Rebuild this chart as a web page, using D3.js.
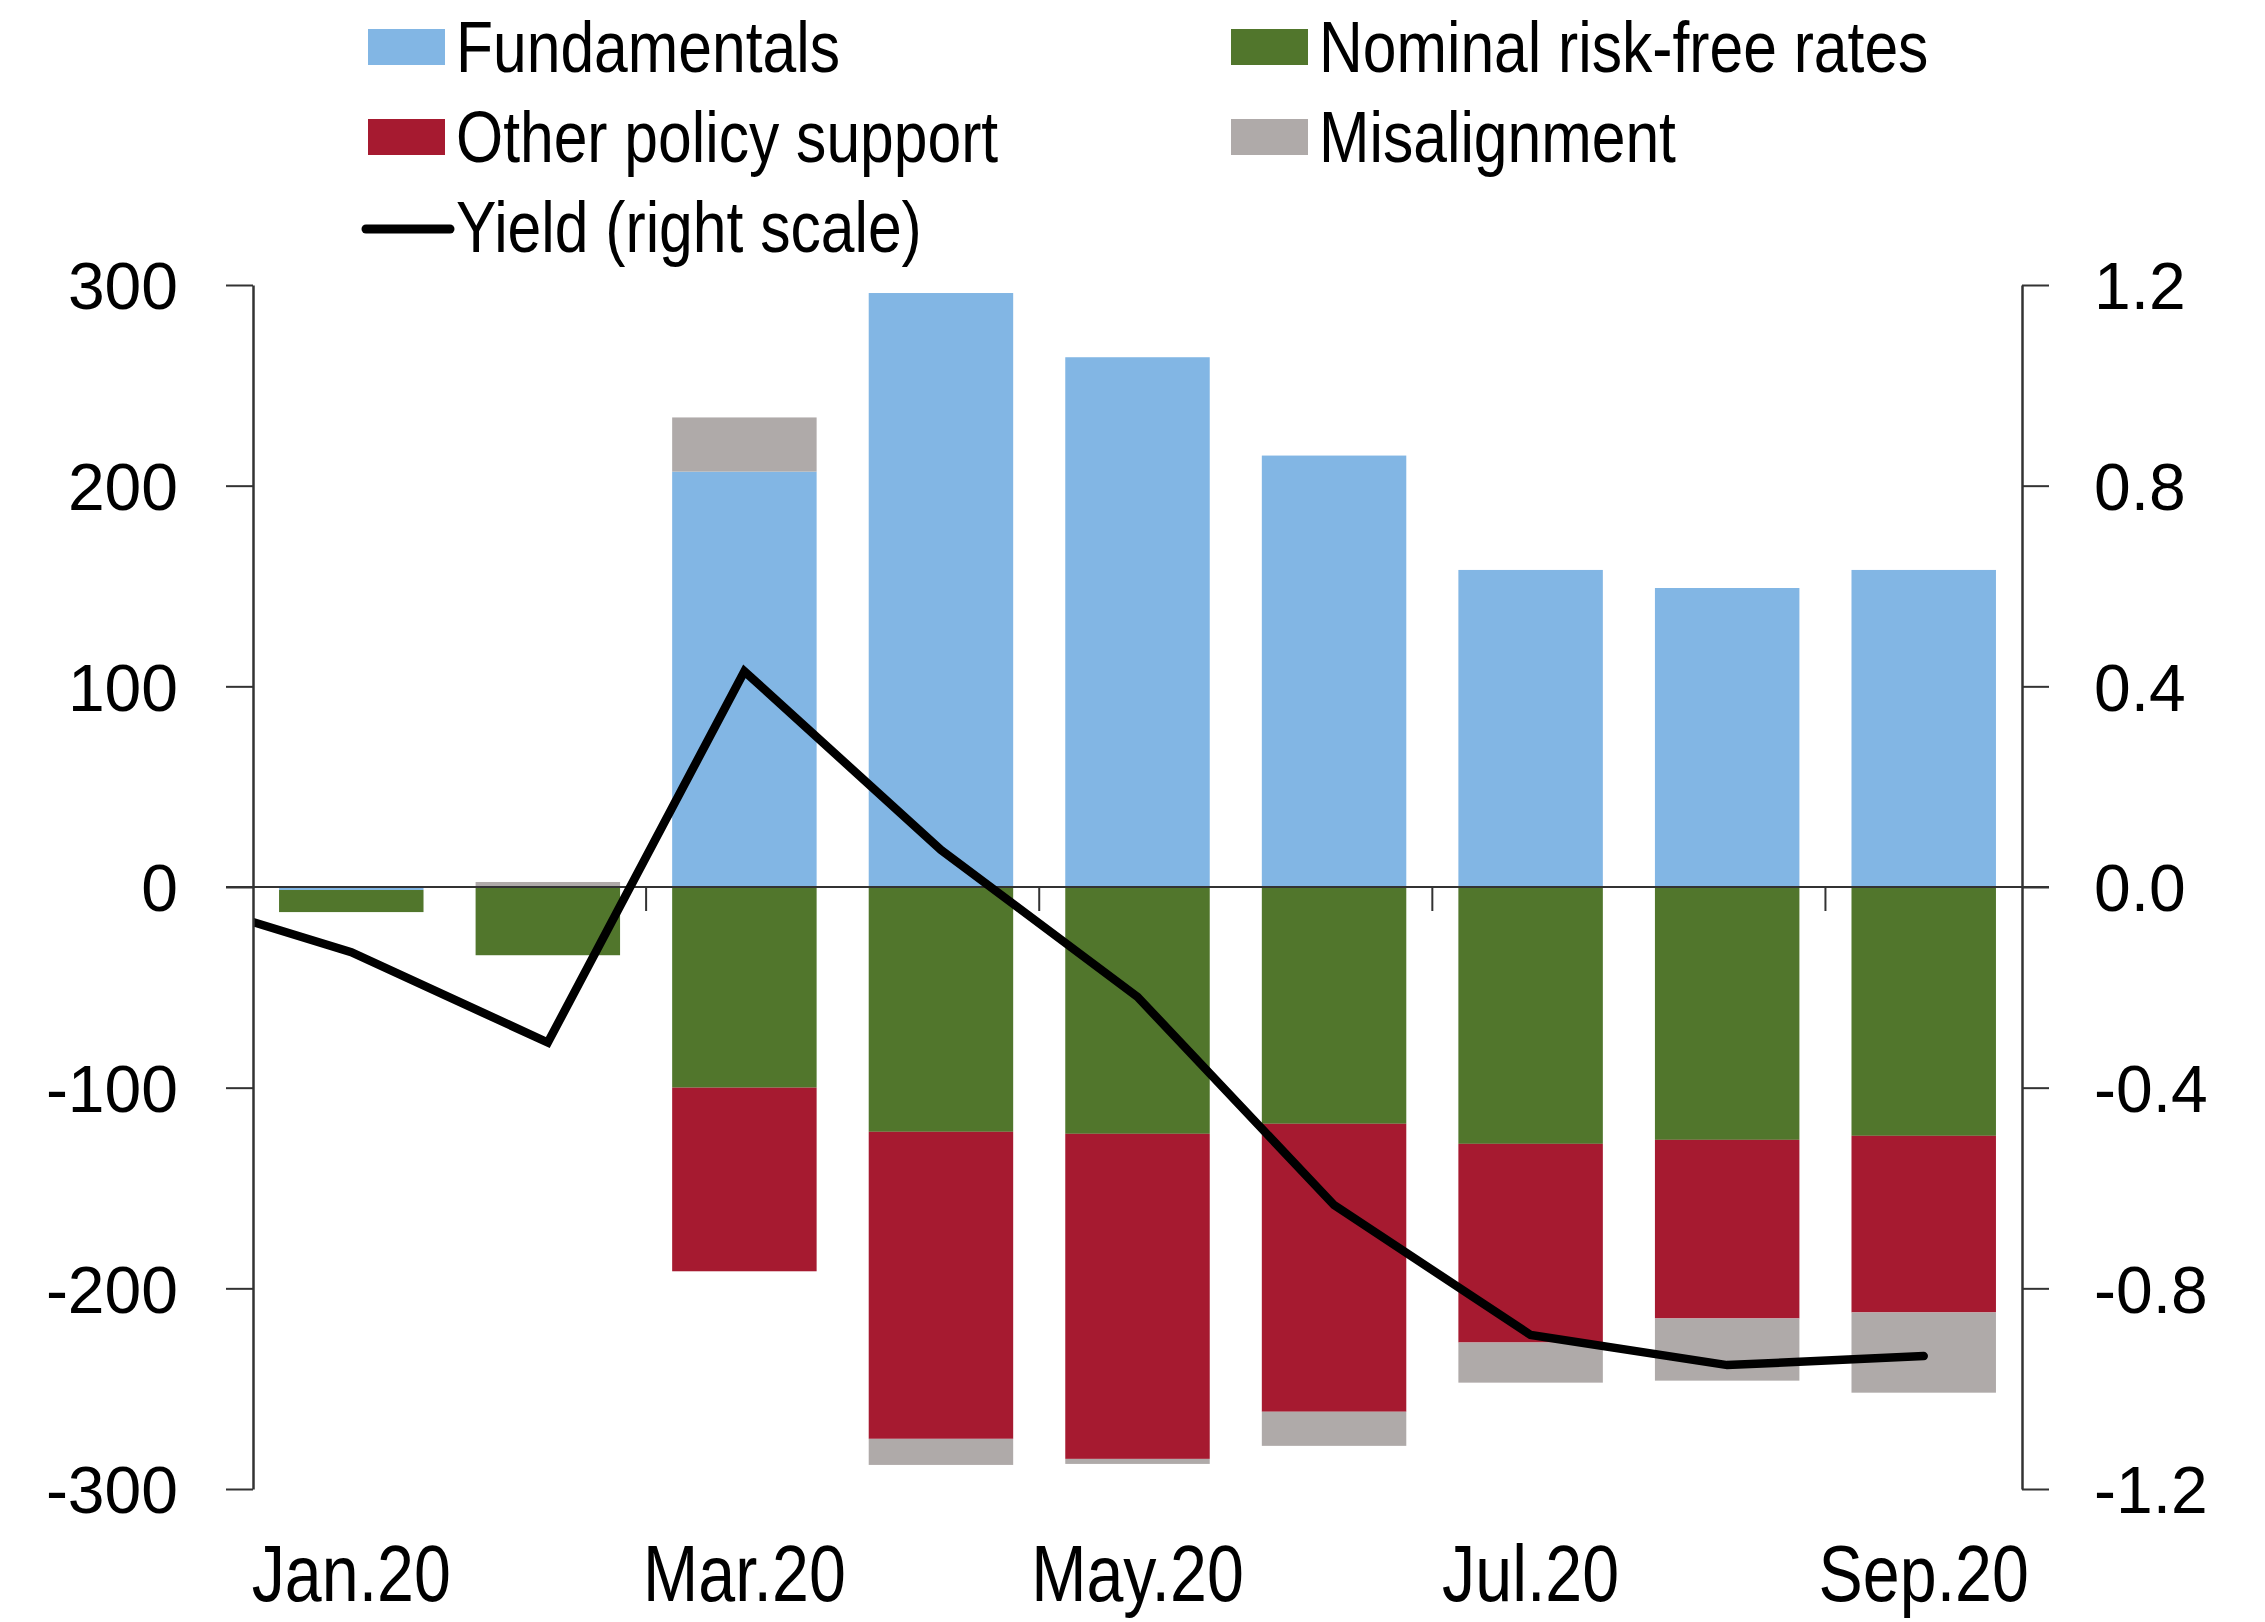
<!DOCTYPE html>
<html>
<head>
<meta charset="utf-8">
<script src="https://cdn.jsdelivr.net/npm/d3@7"></script>
<style>
  body { margin: 0; background: #fff; }
  svg { display: block; }
  text { font-family: "Liberation Sans", Arial, sans-serif; fill: #000; }
</style>
</head>
<body>
<script>
// chart values
var months = ["Jan.20", "Feb.20", "Mar.20", "Apr.20", "May.20", "Jun.20", "Jul.20", "Aug.20", "Sep.20"];
var fundamentals = [-1.5, 0, 207, 296, 264, 215, 158, 149, 158];
var nominalRates = [-11, -34, -100, -122, -123, -118, -128, -126, -124];
var otherPolicy = [0, 0, -91.5, -153, -162, -143.5, -99, -89, -88];
var misalignment = [0, 2.5, 27, -13, -2.5, -17, -20, -31, -40];

// yield series starts one month earlier, clipped at the axis
var yieldMonths = ["Dec.19", "Jan.20", "Feb.20", "Mar.20", "Apr.20", "May.20", "Jun.20", "Jul.20", "Aug.20", "Sep.20"];
var yieldValues = [-0.01, -0.13, -0.31, 0.43, 0.074, -0.219, -0.634, -0.893, -0.953, -0.935];

var leftTicks = [300, 200, 100, 0, -100, -200, -300];
var rightTicks = [1.2, 0.8, 0.4, 0, -0.4, -0.8, -1.2];
var xLabels = ["Jan.20", "Mar.20", "May.20", "Jul.20", "Sep.20"];

var seriesNames = ["Fundamentals", "Nominal risk-free rates", "Other policy support", "Misalignment"];
var seriesKeys = ["fund", "nom", "other", "mis"];
var colors = {fund: "#82B6E4", nom: "#51762C", other: "#A61A30", mis: "#AFAAA9"};

var width = 2265, height = 1622;
var margin = {top: 285, right: 243, bottom: 133, left: 253};

var svg = d3.select("body").append("svg")
    .attr("width", width)
    .attr("height", height);

var x = d3.scaleBand()
    .domain(months)
    .range([margin.left, width - margin.right])
    .paddingInner(0.265)
    .paddingOuter(0.1325);

// index scale for the line (centres of the bands, index -1 = Dec.19)
var xi = d3.scaleLinear()
    .domain([-0.5, months.length - 0.5])
    .range([margin.left, width - margin.right]);

var y = d3.scaleLinear()
    .domain([-300, 300])
    .range([height - margin.bottom, margin.top]);

var yR = d3.scaleLinear()
    .domain([-1.2, 1.2])
    .range([height - margin.bottom, margin.top]);

var table = months.map(function(m, i) {
  return {month: m, fund: fundamentals[i], nom: nominalRates[i], other: otherPolicy[i], mis: misalignment[i]};
});

var stacked = d3.stack()
    .keys(seriesKeys)
    .offset(d3.stackOffsetDiverging)(table);

svg.append("g")
  .selectAll("g")
  .data(stacked)
  .join("g")
    .attr("fill", function(d) { return colors[d.key]; })
  .selectAll("rect")
  .data(function(d) { return d; })
  .join("rect")
    .attr("x", function(d) { return x(d.data.month); })
    .attr("width", x.bandwidth())
    .attr("y", function(d) { return y(Math.max(d[0], d[1])); })
    .attr("height", function(d) { return Math.abs(y(d[0]) - y(d[1])); });

// zero line
svg.append("line")
    .attr("x1", margin.left - 27)
    .attr("x2", width - margin.right + 27)
    .attr("y1", y(0))
    .attr("y2", y(0))
    .attr("stroke", "#333")
    .attr("stroke-width", 2);

// small category ticks every two months
var step = x.step();
svg.append("g")
  .selectAll("line")
  .data([2, 4, 6, 8])
  .join("line")
    .attr("x1", function(i) { return x(months[i]) - step * x.paddingInner() / 2; })
    .attr("x2", function(i) { return x(months[i]) - step * x.paddingInner() / 2; })
    .attr("y1", y(0))
    .attr("y2", y(0) + 24)
    .attr("stroke", "#333")
    .attr("stroke-width", 2);

// yield line
svg.append("clipPath")
    .attr("id", "plotclip")
  .append("rect")
    .attr("x", margin.left)
    .attr("y", margin.top)
    .attr("width", width - margin.left - margin.right)
    .attr("height", height - margin.top - margin.bottom);

var line = d3.line()
    .x(function(d, i) { return xi(i - 1); })
    .y(function(d) { return yR(d); });

svg.append("path")
    .datum(yieldValues)
    .attr("clip-path", "url(#plotclip)")
    .attr("fill", "none")
    .attr("stroke", "#000")
    .attr("stroke-width", 8.5)
    .attr("stroke-linecap", "round")
    .attr("stroke-linejoin", "miter")
    .attr("d", line);

// axes
var leftAxis = svg.append("g")
    .attr("transform", "translate(" + margin.left + ",0)")
    .call(d3.axisLeft(y).tickValues(leftTicks).tickSize(27).tickSizeOuter(0).tickPadding(48)
      .tickFormat(function(d) { return String(d); }));

var rightAxis = svg.append("g")
    .attr("transform", "translate(" + (width - margin.right) + ",0)")
    .call(d3.axisRight(yR).tickValues(rightTicks).tickSize(27).tickSizeOuter(0).tickPadding(45)
      .tickFormat(function(d) { return d.toFixed(1); }));

[leftAxis, rightAxis].forEach(function(a) {
  a.select(".domain").attr("stroke", "#333").attr("stroke-width", 2.5);
  a.selectAll(".tick line").attr("stroke", "#333").attr("stroke-width", 2);
  a.selectAll(".tick text")
      .attr("font-family", "Liberation Sans, Arial, sans-serif")
      .attr("font-size", 66)
      .attr("dy", "0.36em")
      .attr("fill", "#000");
});

// narrow text helper (Arial Narrow look)
function narrowText(parent, tx, ty, str, size, anchor, sx) {
  return parent.append("g")
      .attr("transform", "translate(" + tx + "," + ty + ") scale(" + (sx || 0.82) + ",1)")
    .append("text")
      .attr("text-anchor", anchor)
      .attr("font-size", size)
      .text(str);
}

var xl = svg.append("g");
xLabels.forEach(function(m) {
  narrowText(xl, x(m) + x.bandwidth() / 2, 1601, m, 79, "middle", 0.84);
});

// legend
var legend = svg.append("g");
var legendItems = [
  {name: seriesNames[0], key: "fund", col: 0, row: 0},
  {name: seriesNames[1], key: "nom", col: 1, row: 0},
  {name: seriesNames[2], key: "other", col: 0, row: 1},
  {name: seriesNames[3], key: "mis", col: 1, row: 1}
];
var colX = [368, 1231];
var rowY = [72, 162, 252];

legendItems.forEach(function(d) {
  legend.append("rect")
      .attr("x", colX[d.col])
      .attr("y", rowY[d.row] - 43)
      .attr("width", 77)
      .attr("height", 36)
      .attr("fill", colors[d.key]);
  narrowText(legend, colX[d.col] + 88, rowY[d.row], d.name, 73, "start", 0.83);
});

legend.append("line")
    .attr("x1", colX[0] - 2)
    .attr("x2", colX[0] + 82)
    .attr("y1", rowY[2] - 23)
    .attr("y2", rowY[2] - 23)
    .attr("stroke", "#000")
    .attr("stroke-width", 9)
    .attr("stroke-linecap", "round");
narrowText(legend, colX[0] + 88, rowY[2], "Yield (right scale)", 73, "start", 0.83);
</script>
</body>
</html>
